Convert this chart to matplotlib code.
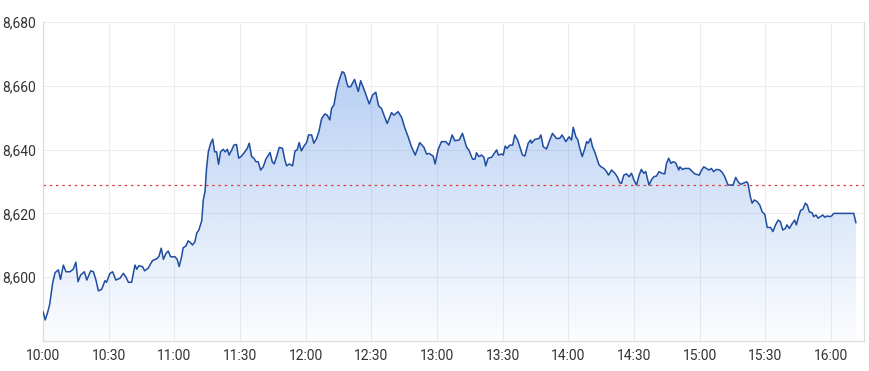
import numpy as np
import matplotlib
matplotlib.use("Agg")
import matplotlib.pyplot as plt
import matplotlib.colors as mcolors
from matplotlib.ticker import FuncFormatter

# minutes after 10:00 and index level
minutes = [
    0, 1, 2, 3, 4.4, 5.5, 7, 8, 9.3, 10.5, 12.3, 13.8, 15, 16, 17.2, 18.9, 20, 21.8,
    23, 24.2, 25.3, 26.8, 28.3, 29, 30.6, 31.8, 33.3, 35.2, 36.7, 37.9, 39, 40.5,
    42, 42.8, 43.8, 45.5, 46.4, 48, 50, 52.2, 53, 54, 55, 56.2, 57.2, 58.3, 60.3,
    61.3, 62.2, 63.3, 64, 65.3, 66.3, 67.4, 68.3, 69.4, 70.2, 71.2, 72.5, 73.2, 74,
    74.7, 75.5, 76.6, 77.5, 78.4, 79.3, 80.2, 81.1, 82.3, 83.2, 84.2, 85, 86.2,
    87.2, 88.4, 89.4, 90.7, 92.2, 93.3, 94.2, 95.3, 96.3, 97.3, 98.3, 99.4, 100.6,
    101.8, 103.7, 104.7, 105.6, 106.7, 107.9, 109.4, 110.5, 111.3, 112.5, 114,
    115.1, 116.1, 117, 118, 119.2, 120.4, 121.3, 122.7, 123.7, 125, 126, 127.3,
    128.8, 129.8, 131, 131.8, 132.9, 134.1, 135.3, 136.6, 137.4, 138.1, 138.8,
    139.4, 140.5, 142.3, 144, 145.1, 147, 149, 150.5, 152, 153.3, 154.6, 157.2,
    159.2, 160.3, 162.2, 163.8, 165.3, 166.8, 168.3, 170, 172.1, 174, 175.2, 176.3,
    178.2, 179.1, 180.5, 182, 184, 185.4, 186.9, 188.1, 190.1, 191.6, 193.5, 194.5,
    196.2, 197.3, 198, 199.1, 200.3, 201.4, 202.2, 203.3, 204.9, 207.2, 208, 209.5,
    210.2, 211.1, 212, 213.2, 214.5, 215.5, 216.8, 219, 220.1, 221.6, 222.7, 223.1,
    224.7, 226.6, 227.4, 228.5, 230, 231.2, 232.7, 234.5, 236, 237.1, 238.8, 240.3,
    241.4, 242.2, 243.4, 244.2, 245.2, 246.3, 247.5, 248.3, 249, 250.1, 251, 252,
    253.1, 254, 255.1, 256.2, 257.4, 258.3, 259.7, 261.2, 262.3, 263.5, 264.2,
    265.3, 266.5, 267.7, 268.8, 269.9, 271.1, 272.3, 273.3, 274.4, 275.3, 276.8,
    277.9, 279, 280.2, 281.4, 282.6, 284, 284.8, 285.8, 286.8, 287.8, 288.9, 289.6,
    290.4, 290.9, 292.1, 293.2, 295.1, 296.2, 297.7, 299.7, 300.7, 301.8, 303,
    304.2, 305.3, 306.3, 307.6, 309.1, 310.3, 311.4, 312.9, 315.2, 316.4, 317.5,
    318.7, 320.3, 321.4, 322, 323.1, 323.9, 324.9, 326.2, 327.4, 328.5, 329.7,
    330.8, 332.3, 333.4, 334.6, 335.8, 336.8, 337.9, 339.1, 339.8, 340.9, 342.1,
    343.3, 344.1, 345.1, 346, 347.1, 348.2, 349.1, 350, 351.3, 352, 353.1, 354,
    355.1, 356.2, 357.1, 358.2, 359.2, 360.2, 361.2, 370.3, 371.3,
]
prices = [
    8589.2, 8586.6, 8588.7, 8591.3, 8598.1, 8601.4, 8602.3, 8599.3, 8603.8, 8601.7,
    8601.7, 8602.5, 8604.7, 8598.6, 8600.7, 8601.7, 8599.1, 8602.0, 8601.7, 8599.1,
    8595.7, 8596.2, 8598.9, 8598.4, 8601.2, 8601.7, 8599.1, 8599.7, 8601.2, 8600.0,
    8598.4, 8598.4, 8603.8, 8602.5, 8603.6, 8603.3, 8602.0, 8602.8, 8605.2, 8605.9,
    8606.6, 8609.1, 8605.6, 8607.5, 8608.2, 8606.4, 8606.4, 8605.6, 8603.3, 8606.4,
    8609.2, 8609.8, 8611.4, 8610.8, 8610.1, 8611.1, 8613.8, 8614.8, 8617.7, 8624.2,
    8626.8, 8634.1, 8639.3, 8642.0, 8643.3, 8639.3, 8639.3, 8635.4, 8639.3, 8640.1,
    8639.3, 8640.1, 8638.3, 8639.9, 8641.4, 8641.6, 8637.3, 8638.0, 8639.3, 8640.4,
    8642.0, 8637.8, 8637.3, 8636.2, 8636.2, 8633.6, 8634.6, 8637.0, 8639.1, 8636.2,
    8635.5, 8637.8, 8640.7, 8640.4, 8636.7, 8634.9, 8635.5, 8634.9, 8639.6, 8639.9,
    8642.2, 8639.6, 8641.1, 8642.2, 8644.6, 8644.6, 8642.0, 8643.5, 8645.6, 8649.8,
    8651.2, 8650.8, 8649.3, 8652.9, 8654.0, 8658.7, 8661.8, 8664.4, 8664.2, 8662.9,
    8660.8, 8659.7, 8659.7, 8662.0, 8658.2, 8661.6, 8658.2, 8654.3, 8657.1, 8658.0,
    8653.7, 8652.9, 8648.2, 8651.6, 8650.8, 8651.9, 8650.1, 8646.7, 8644.0, 8640.9,
    8638.3, 8642.2, 8640.7, 8638.6, 8638.8, 8638.0, 8635.5, 8640.1, 8642.5, 8642.5,
    8641.4, 8644.6, 8642.8, 8643.0, 8645.1, 8640.7, 8639.9, 8637.0, 8637.0, 8639.0,
    8637.8, 8638.3, 8637.6, 8634.9, 8637.3, 8637.6, 8639.9, 8638.3, 8638.6, 8638.3,
    8641.1, 8640.4, 8641.4, 8641.4, 8644.6, 8643.0, 8638.3, 8638.0, 8642.0, 8643.0,
    8642.0, 8643.2, 8643.5, 8644.6, 8640.9, 8640.2, 8642.5, 8645.1, 8643.5, 8643.5,
    8644.6, 8642.5, 8644.0, 8643.0, 8647.0, 8644.0, 8643.2, 8640.4, 8637.8, 8640.4,
    8642.5, 8642.0, 8643.5, 8640.9, 8639.3, 8637.0, 8635.2, 8634.5, 8634.1, 8633.1,
    8632.0, 8633.6, 8632.6, 8631.5, 8629.6, 8629.4, 8632.0, 8632.4, 8631.5, 8632.6,
    8630.5, 8628.9, 8632.0, 8633.8, 8632.6, 8633.1, 8628.9, 8630.5, 8631.5, 8631.7,
    8633.1, 8632.6, 8632.4, 8635.7, 8637.3, 8635.7, 8636.2, 8635.9, 8634.9, 8633.6,
    8634.6, 8633.8, 8634.1, 8634.1, 8633.4, 8632.4, 8632.0, 8633.4, 8634.6, 8634.1,
    8633.6, 8634.1, 8633.1, 8633.8, 8633.6, 8632.8, 8631.5, 8628.9, 8628.9, 8631.3,
    8629.9, 8629.1, 8629.6, 8629.9, 8629.4, 8625.2, 8623.2, 8624.2, 8623.7, 8622.6,
    8620.5, 8619.7, 8615.6, 8615.6, 8614.3, 8616.4, 8617.9, 8617.4, 8614.8, 8615.3,
    8616.4, 8615.3, 8616.7, 8617.9, 8616.4, 8619.0, 8620.9, 8621.3, 8623.2, 8622.6,
    8620.5, 8620.2, 8619.0, 8619.5, 8618.5, 8619.0, 8619.5, 8618.8, 8619.2, 8619.0,
    8619.2, 8620.0, 8620.0, 8617.1,
]
prev_close = 8629.0

y_ticks = [8600, 8620, 8640, 8660, 8680]
x_ticks = [0, 30, 60, 90, 120, 150, 180, 210, 240, 270, 300, 330, 360]
x_labels = ["10:00", "10:30", "11:00", "11:30", "12:00", "12:30", "13:00",
            "13:30", "14:00", "14:30", "15:00", "15:30", "16:00"]

plt.rcParams["font.family"] = ["Roboto", "DejaVu Sans"]

fig = plt.figure(figsize=(8.7, 3.71), dpi=100)
ax = fig.add_axes([43 / 870, 30 / 371, 821 / 870, 319 / 371])

y_min, y_max = 8580, 8680

# gradient fill under the line, clipped to the area polygon
area = ax.fill_between(minutes, prices, y_min, facecolor="none", edgecolor="none")
grad = np.zeros((256, 1, 4))
grad[:, :, :3] = mcolors.to_rgb("#4c88e2")
grad[:, 0, 3] = np.linspace(0.40, 0.02, 256)
img = ax.imshow(grad, aspect="auto", origin="upper", zorder=1,
                extent=[0, max(minutes), y_min, max(prices)])
img.set_clip_path(area.get_paths()[0], transform=ax.transData)

ax.plot(minutes, prices, color="#1f4da0", linewidth=1.1, zorder=3)
ax.axhline(prev_close, color="#e03a3a", linewidth=0.9,
           linestyle=(0, (2, 3)), zorder=2)

ax.set_xlim(0, 375)
ax.set_ylim(y_min, y_max)
ax.set_xticks(x_ticks)
ax.set_xticklabels(x_labels)
ax.set_yticks(y_ticks)
ax.yaxis.set_major_formatter(FuncFormatter(lambda v, _: f"{v:,.0f}"))

ax.grid(True, color="#ededed", linewidth=0.8, zorder=0)
ax.set_axisbelow(True)
for side in ["left", "bottom", "right"]:
    ax.spines[side].set_color("#dcdcdc")
    ax.spines[side].set_linewidth(0.9)
ax.spines["top"].set_visible(False)
ax.tick_params(length=0, labelsize=10, colors="#333333")
ax.tick_params(axis="x", pad=6)
ax.tick_params(axis="y", pad=5)

fig.savefig("out.png", dpi=100)
